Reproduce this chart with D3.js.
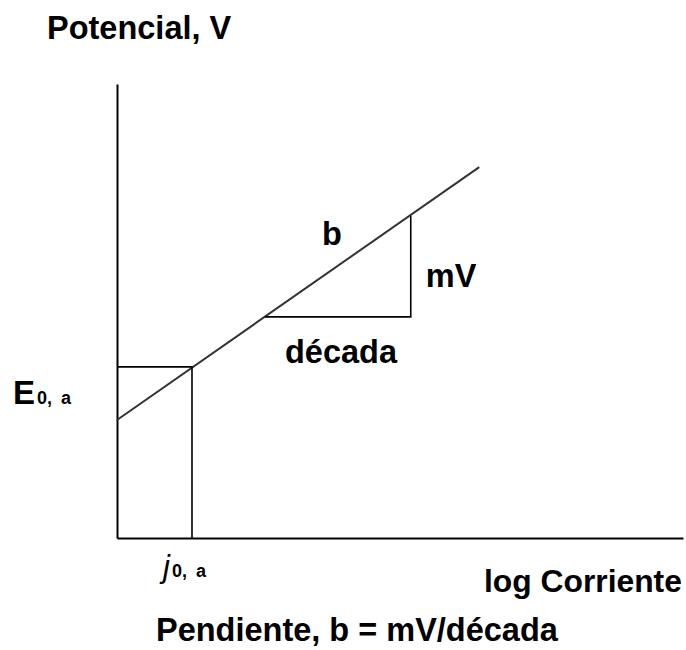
<!DOCTYPE html>
<html>
<head>
<meta charset="utf-8">
<script src="https://cdn.jsdelivr.net/npm/d3@7/dist/d3.min.js"></script>
<style>
  html, body { margin: 0; padding: 0; background: #fff; }
  svg { display: block; }
  text { font-family: "Liberation Sans", Arial, sans-serif; fill: #000; }
</style>
</head>
<body>
<svg id="chart" width="686" height="650"></svg>
<script>
// ---- data (in chart units: log current on x, potential on y) ----
const xDomain = [0, 10];
const yDomain = [0, 10];
const tafelX = [0, 6.4];          // log current at the two ends of the Tafel line
const tafelY = [2.6, 8.17];       // potential at the two ends of the Tafel line
const j0 = 1.325;                 // exchange current density (log)
const E0 = 3.77;                  // equilibrium potential
const triX = [2.615, 5.19];       // "década" span of the slope triangle
const triY = [4.87, 7.1];         // "mV" span of the slope triangle
const yTitle = "Potencial, V";
const xTitle = "log Corriente";
const footer = "Pendiente, b = mV/década";

// ---- layout ----
const svg = d3.select("#chart");
const x = d3.scaleLinear().domain(xDomain).range([117, 683]);
const y = d3.scaleLinear().domain(yDomain).range([538, 84]);

const g = svg.append("g");

// axes (lines only, no ticks)
g.append("g").attr("transform", `translate(0,${y(0)})`)
  .call(d3.axisBottom(x).tickValues([]).tickSizeOuter(0))
  .call(s => s.select(".domain").attr("stroke", "#000").attr("stroke-width", 2));
g.append("g").attr("transform", `translate(${x(0)},0)`)
  .call(d3.axisLeft(y).tickValues([]).tickSizeOuter(0))
  .call(s => s.select(".domain").attr("stroke", "#000").attr("stroke-width", 2));

const line = d3.line().x(d => x(d[0])).y(d => y(d[1]));

// Tafel line
g.append("path")
  .datum(tafelX.map((v, i) => [v, tafelY[i]]))
  .attr("d", line).attr("fill", "none").attr("stroke", "#333").attr("stroke-width", 2);

// E0 / j0 guide lines
g.append("path")
  .datum([[0, E0], [j0, E0], [j0, 0]])
  .attr("d", line).attr("fill", "none").attr("stroke", "#000").attr("stroke-width", 1.6);

// slope triangle
g.append("path")
  .datum([[triX[0], triY[0]], [triX[1], triY[0]], [triX[1], triY[1]]])
  .attr("d", line).attr("fill", "none").attr("stroke", "#000").attr("stroke-width", 1.6);

// ---- text ----
const bold = { "font-weight": "bold", "font-size": "32.5px" };
function addText(tx, ty, str, attrs) {
  const t = svg.append("text").attr("x", tx).attr("y", ty).text(str);
  Object.entries(attrs || {}).forEach(([k, v]) => t.style(k, v));
  return t;
}
addText(47, 39, yTitle, bold);
addText(484, 592, xTitle, { "font-weight": "bold", "font-size": "31.8px" });
addText(156, 641, footer, bold);
addText(x(triX[0]) + 20, y(triY[0]) + 46, "década", bold);
addText(x(triX[1]) + 15, y(triY[1]) + 71, "mV", bold);
addText(322, 245, "b", bold);

// E0,a label
const eLab = svg.append("text").attr("x", 13).attr("y", 404);
eLab.append("tspan").text("E").style("font-weight", "bold").style("font-size", "33px");
eLab.append("tspan").text("0, a")
  .attr("dx", 2)
  .style("font-size", "18px").style("font-weight", "bold").style("word-spacing", "4px");

// j0,a label
const jLab = svg.append("text").attr("x", 163).attr("y", 577);
jLab.append("tspan").text("j").style("font-style", "italic").style("font-size", "31px");
jLab.append("tspan").text("0, a")
  .attr("dx", 2)
  .style("font-size", "18px").style("font-weight", "bold").style("word-spacing", "4px");
</script>
</body>
</html>
